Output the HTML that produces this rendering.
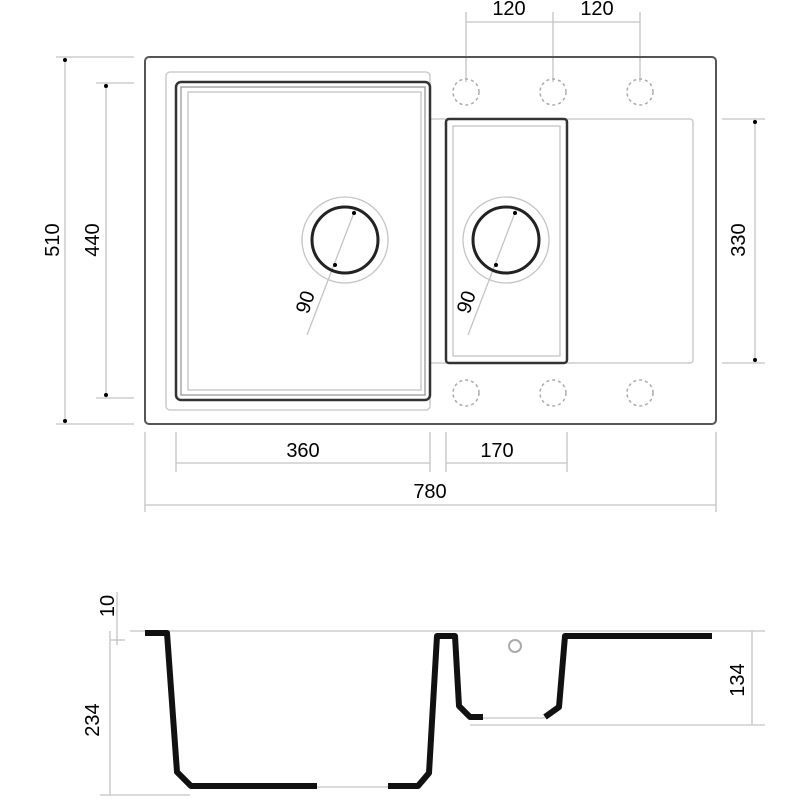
<!DOCTYPE html>
<html><head><style>html,body{margin:0;padding:0;background:#fff}svg{display:block}</style></head><body>
<svg width="800" height="800" viewBox="0 0 800 800" xmlns="http://www.w3.org/2000/svg" font-family="Liberation Sans, sans-serif" font-size="20" fill="#000">
<g fill="none" stroke="#c4c4c4" stroke-width="1.3">
 <line x1="466" y1="22" x2="640" y2="22"/>
 <line x1="466" y1="12" x2="466" y2="82"/><line x1="553" y1="12" x2="553" y2="82"/><line x1="640" y1="12" x2="640" y2="82"/>
 <line x1="56" y1="57" x2="134" y2="57"/><line x1="56" y1="424" x2="134" y2="424"/><line x1="65" y1="57" x2="65" y2="424"/>
 <line x1="96" y1="83" x2="134" y2="83"/><line x1="96" y1="398" x2="134" y2="398"/><line x1="106" y1="83" x2="106" y2="398"/>
 <line x1="722" y1="119" x2="765" y2="119"/><line x1="722" y1="363" x2="765" y2="363"/><line x1="755" y1="119" x2="755" y2="363"/>
 <line x1="176" y1="463" x2="430" y2="463"/><line x1="176" y1="432" x2="176" y2="472"/><line x1="430" y1="432" x2="430" y2="472"/>
 <line x1="446" y1="463" x2="567" y2="463"/><line x1="446" y1="432" x2="446" y2="472"/><line x1="567" y1="432" x2="567" y2="472"/>
 <line x1="145" y1="505" x2="716" y2="505"/><line x1="145" y1="432" x2="145" y2="512"/><line x1="716" y1="432" x2="716" y2="512"/>
 <rect x="166" y="72" width="264" height="338" rx="4"/>
 <rect x="188" y="92" width="233" height="298"/>
 <path d="M430 119 H690 a3 3 0 0 1 3 3 V360 a3 3 0 0 1 -3 3 H430"/>
 <rect x="453" y="126" width="107" height="230"/>
 <circle cx="345" cy="240" r="43"/><circle cx="506" cy="240" r="43"/>
 <line x1="355" y1="210" x2="307" y2="335"/><line x1="516" y1="210" x2="468" y2="335"/>
 <line x1="130" y1="631" x2="765" y2="631"/>
 <line x1="470" y1="725" x2="765" y2="725"/>
 <line x1="110" y1="631" x2="110" y2="795"/><line x1="100" y1="795" x2="190" y2="795"/>
 <line x1="752" y1="631" x2="752" y2="725"/>
 <line x1="117" y1="592" x2="117" y2="645"/><line x1="110" y1="640" x2="125" y2="640"/>
 <line x1="317" y1="787" x2="388" y2="787"/><line x1="483" y1="718" x2="545" y2="718"/>
 <circle cx="515" cy="646" r="6" stroke="#aaa" stroke-width="2"/>
</g>
<g fill="none" stroke="#aaa" stroke-width="1.5" stroke-dasharray="3 3">
 <circle cx="466" cy="92" r="13"/><circle cx="553" cy="92" r="13"/><circle cx="640" cy="92" r="13"/>
 <circle cx="466" cy="393" r="13"/><circle cx="553" cy="393" r="13"/><circle cx="640" cy="393" r="13"/>
</g>
<g fill="none" stroke="#555" stroke-width="2">
 <rect x="145" y="57" width="571" height="367" rx="4"/>
 <rect x="176" y="82" width="254" height="318" rx="5" stroke="#333" stroke-width="2.5"/>
 <rect x="181" y="87" width="244" height="308" stroke="#999" stroke-width="1.3"/>
 <rect x="446" y="119" width="121" height="244" rx="3" stroke="#333" stroke-width="2.5"/>
 <circle cx="345" cy="240" r="33" stroke="#222" stroke-width="3"/>
 <circle cx="506" cy="240" r="33" stroke="#222" stroke-width="3"/>
</g>
<g fill="#000">
 <circle cx="65" cy="60" r="2"/><circle cx="65" cy="421" r="2"/><circle cx="106" cy="86" r="2"/><circle cx="106" cy="395" r="2"/>
 <circle cx="755" cy="122" r="2"/><circle cx="755" cy="360" r="2"/>
 <circle cx="354" cy="213" r="2"/><circle cx="335" cy="265" r="2"/><circle cx="515" cy="213" r="2"/><circle cx="496" cy="265" r="2"/>
</g>
<path d="M145 633 H167 L177 772 L191 786 H317 M388 786 H418 L429 773 L437 636 H455 L459 706 L470 717 H483 M545 717 L559 707 L565 636 H712" fill="none" stroke="#111" stroke-width="6" stroke-linejoin="round"/>
<g text-anchor="middle">
 <text x="509" y="15">120</text><text x="597" y="15">120</text>
 <text x="303" y="457">360</text><text x="497" y="457">170</text>
 <text x="430" y="498">780</text>
 <text transform="translate(52,240) rotate(-90)" dy="7">510</text>
 <text transform="translate(92,240) rotate(-90)" dy="7">440</text>
 <text transform="translate(738,240) rotate(-90)" dy="7">330</text>
 <text transform="translate(305,302) rotate(-72)" dy="7">90</text>
 <text transform="translate(466,302) rotate(-72)" dy="7">90</text>
 <text transform="translate(108,606) rotate(-90)" dy="6">10</text>
 <text transform="translate(92,720) rotate(-90)" dy="7">234</text>
 <text transform="translate(737,680) rotate(-90)" dy="7">134</text>
</g>
</svg>
</body></html>
